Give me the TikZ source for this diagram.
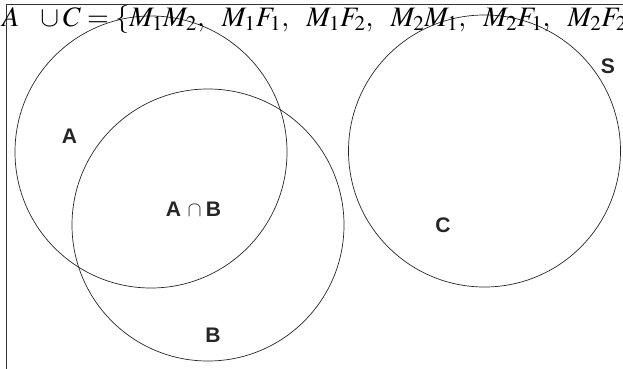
\documentclass[tikz,border=0pt]{standalone}
\usepackage{mathptmx}
\usepackage{fontspec}
\setsansfont{Liberation Sans}
\usepackage{tikz}
\usetikzlibrary{positioning,calc}
\DeclareMathSizes{24}{24}{18}{14}
\newcommand{\gap}{\hspace{0.5em}}

\begin{document}
\begin{tikzpicture}[
    x=0.03cm, y=-0.03cm,
    venn/.style={circle, draw=black!85, line width=0.6pt, minimum size=8.16cm, inner sep=0pt},
    setlabel/.style={font=\fontsize{18}{21}\selectfont\sffamily\bfseries, text=black!85, inner sep=0pt},
    frame/.style={draw=black!80, line width=0.8pt}
]

\useasboundingbox (0,0) rectangle (623,368);
\clip (0,0) rectangle (623,368);

% Universal set frame (cropped)
\draw[frame] (6.5,4) rectangle (660,400);

% Sets
\node[venn] (circA) at (151,152) {};
\node[venn] (circB) at (208,225) {};
\node[venn] (circC) at (484.5,151) {};

% Set labels
\node[setlabel] (labA) at (69.5,136) {A};
\node[setlabel] (labAB) at (193.5,209) {A\hspace{0.3em}$\cap$\hspace{0.2em}B};
\node[setlabel] (labB) at (213,335) {B};
\node[setlabel] (labC) at (443,225) {C};
\node[setlabel] (labS) at (608,66) {S};

% Union written above
\node[anchor=base west, inner sep=0pt, font=\fontsize{24}{28}\selectfont] (union) at (2,26.5)
    {$A\ \ \cup C = \{M_1M_2,\gap M_1F_1,\gap M_1F_2,\gap M_2M_1,\gap M_2F_1,\gap M_2F_2$};

\end{tikzpicture}
\end{document}
